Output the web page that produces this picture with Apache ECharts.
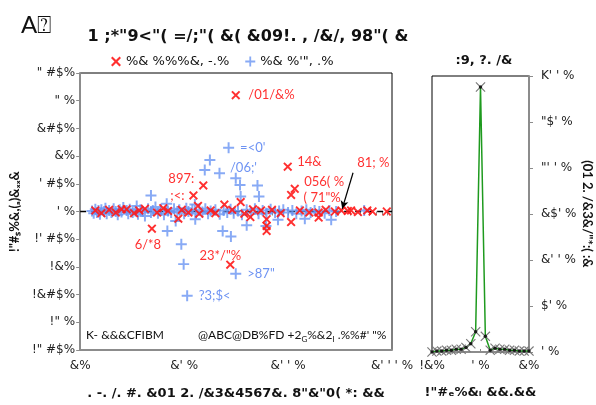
<!DOCTYPE html>
<html><head><meta charset="utf-8">
<script src="https://cdn.jsdelivr.net/npm/echarts@6/dist/echarts.min.js"></script>
<style>html,body{margin:0;padding:0;background:#fff}#c{width:596px;height:405px}</style>
</head><body><div id="c"></div>
<script>
// ---------- data ----------
const xTickValues = [1, 10, 100, 1000];
const xTickLabels = ["&%", "&' %", "&' ' %", "&' ' ' %"];
const yTickLabels = ['!" #$%', '!" %', '!&#$%', '!&%', "!' #$%", "' %", "' #$%", '&%', '&#$%', '" %', '" #$%']; // -2.5 .. 2.5
const histTickLabels = ["' %", "$' %", "&' ' %", "&$' %", "\"' ' %", "\"$' %", "K' ' %"]; // 0..300
const binTickLabels = ["!&%", "' %", "&%"]; // -1,0,1

const seriesNames = ["%& %%%&, -.%", "%& %'\", .%"];

const bluePoints = [
 [1.3,0.01],[1.35,-0.03],[1.4,0.04],[1.45,-0.02],[1.5,0.02],[1.55,-0.05],[1.6,0.03],[1.7,0.0],[1.75,0.06],[1.8,-0.04],
 [1.9,0.02],[2.0,-0.02],[2.1,0.05],[2.2,0.0],[2.3,-0.06],[2.4,0.03],[2.5,-0.01],[2.6,0.07],[2.8,0.02],[2.9,-0.04],
 [3.0,0.04],[3.2,-0.02],[3.4,0.01],[3.5,0.1],[3.6,-0.05],[3.8,0.03],[4.0,0.0],[4.2,-0.08],[4.5,0.05],[4.8,0.29],
 [4.8,-0.02],[5.0,0.02],[5.3,0.08],[5.6,-0.03],[6.0,0.04],[6.4,-0.06],[6.8,0.14],[6.9,-0.35],[7.0,0.01],[7.5,-0.02],
 [8.0,0.05],[8.3,-0.17],[8.6,0.0],[9.0,0.03],[9.4,-0.59],[9.9,-0.95],[10,-0.04],[10.5,0.06],[11,0.0],[12,0.03],
 [12.7,0.125],[12.8,-0.14],[13,-0.03],[14,0.02],[15,-0.01],[15.8,0.75],[16,0.05],[17,-0.04],[17.7,0.93],[18,0.01],
 [20,0.03],[22,-0.05],[23.5,-0.35],[24,0.02],[26,-0.02],[28,0.04],[28.2,-0.45],[30,-0.03],[31.4,0.60],[33,0.01],
 [34.5,0.48],[35,0.27],[36,-0.06],[40,-0.25],[40,0.03],[44,-0.02],[48,0.05],[50.8,0.47],[52,-0.04],[52.5,0.27],
 [57,0.02],[61.3,-0.26],[62,-0.03],[68,0.04],[75,-0.02],[80,-0.15],[82,0.01],[90,0.03],[100,-0.02],[110,0.02],
 [120,-0.04],[135,0.01],[145,-0.13],[150,0.03],[165,-0.02],[180,0.02],[200,0.0],[225,-0.03],[250,0.02],[260,-0.15],
 [290,0.0],[540,0.02]
];
const blueLabeledPoints = [[26.8,1.15],[21.9,0.69],[31.4,-1.125],[10.7,-1.52]];
const blueLabelTexts = ["=<0'", "/06;'", ">87\"", "?3;$<"];

const redPoints = [
 [1.4,0.02],[1.6,-0.03],[1.9,0.03],[2.2,-0.02],[2.5,0.04],[2.8,0.04],[3.3,-0.03],[3.7,0.02],[4.2,0.05],[5.5,-0.02],
 [6.3,0.06],[7,0.01],[8.8,-0.13],[9.5,0.03],[11,-0.02],[13.6,0.1],[14,-0.04],[18,0.02],[20,-0.03],[24.4,0.125],
 [29,0.03],[35,0.17],[38,-0.04],[43.4,-0.1],[46,0.04],[55,0.02],[62.2,-0.14],[62.2,-0.26],[62.2,-0.35],[70,0.03],
 [85,-0.03],[107,-0.19],[130,0.02],[160,-0.02],[197,-0.02],[197,-0.11],[230,0.03],[282,0.0],[376,0.01],[404,0.02],
 [470,-0.01],[579,0.02],[650,0.0],[891,0.0]
];
const redLabeledPoints = [[31.4,2.10],[99.3,0.81],[326,0.02],[116,0.41],[107,0.30],[15.3,0.47],[12.3,0.29],[4.9,-0.31],[27.8,-0.96]];
const redLabelTexts = ["/01/&%", "14&", "81; %", "056( %", "( 71\"%", "897:$'", ";<:$'", "6/*8", "23*/\"%"];
const arrowFrom = [422, 0.70];
const arrowTo = [332, 0.05];

const histBins = [-1,-0.9,-0.8,-0.7,-0.6,-0.5,-0.4,-0.3,-0.2,-0.1,0,0.1,0.2,0.3,0.4,0.5,0.6,0.7,0.8,0.9,1];
const histCounts = [0,1,1,2,2,3,3,5,9,22,288,17,2,4,3,3,2,2,1,1,1];

// ---------- styles ----------
const FONT = 'Lato';
const WFONT = 'DejaVu Sans';
const RED = '#ff1a1a';
const BLUE = '#6a95f2';
const GRAY_AX = '#8c8c8c';
const redSym = 'path://M0,1.5 L1.5,0 L5,3.5 L8.5,0 L10,1.5 L6.5,5 L10,8.5 L8.5,10 L5,6.5 L1.5,10 L0,8.5 L3.5,5 Z M3.3,3.3 L6.7,3.3 L6.7,6.7 L3.3,6.7 Z';
const plusSym = 'path://M4.1,0 L5.9,0 L5.9,4.1 L10,4.1 L10,5.9 L5.9,5.9 L5.9,10 L4.1,10 L4.1,5.9 L0,5.9 L0,4.1 L4.1,4.1 Z';
const thinX = 'path://M0,0.8 L0.8,0 L5,4.2 L9.2,0 L10,0.8 L5.8,5 L10,9.2 L9.2,10 L5,5.8 L0.8,10 L0,9.2 L4.2,5 Z';

// label placements (style only, matched by index)
const blueLabelPos = [
  {position:'right', distance:6},
  {position:'right', distance:5, offset:[0,-5]},
  {position:'right', distance:6},
  {position:'right', distance:6}
];
const redLabelPos = [
  {position:'right', distance:8},
  {position:'right', distance:5, offset:[0,-5]},
  {position:'inside', offset:[32,-48]},
  {position:'right', distance:5, offset:[0,-7]},
  {position:'right', distance:8, offset:[0,3]},
  {position:'inside', offset:[-22,-7]},
  {position:'inside', offset:[-16,0]},
  {position:'inside', offset:[-4,16]},
  {position:'inside', offset:[-10,-9]}
];

function mkLabeled(pts, texts, pos, color){
  return pts.map((p,i)=>({value:p, name:texts[i], label:Object.assign({show:true, formatter:'{b}', color:color, fontSize:13, fontFamily:FONT}, pos[i])}));
}

// minor tick positions for the log axis, as log10 values on an overlay axis
const logTickVals = [];
[1,10,100].forEach(d=>{ for(let k=1;k<=9;k++) logTickVals.push(Math.log10(k*d)); });
logTickVals.push(3);

const chart = echarts.init(document.getElementById('c'), null, {renderer:'canvas'});

const tickLabelStyle = {color:'#222', fontSize:12, fontFamily:WFONT};

const option = {
  animation:false,
  textStyle:{fontFamily:FONT},
  title:[
    {text:'A\u2370', left:16, top:8, textStyle:{fontSize:24, fontWeight:'normal', color:'#111', fontFamily:FONT}},
    {text:'1 ;*"9<"( =/;"( &( &09!. , /&/, 98"( &', left:243, top:24, textAlign:'center', textStyle:{fontSize:16, fontWeight:'bold', color:'#111', fontFamily:WFONT}},
    {text:':9, ?. /&', left:479, top:49, textAlign:'center', textStyle:{fontSize:13, fontWeight:'bold', color:'#111', fontFamily:WFONT}}
  ],
  legend:{
    top:50, left:106,
    itemWidth:10, itemHeight:10, itemGap:16,
    textStyle:{fontSize:13, color:'#111', fontFamily:WFONT},
    data:[{name:seriesNames[0], icon:redSym},{name:seriesNames[1], icon:plusSym}]
  },
  graphic:[
    {type:'text', left:86, top:329, style:{text:'K- &&&CFIBM', fontSize:12, fill:'#111', fontFamily:FONT}},
    {type:'text', left:198, top:329, style:{text:'{a|@ABC@DB%FD +2}{s|G}{a|%&2}{s|I}{a| .%%#\' "%}', fontSize:12, fill:'#111', fontFamily:FONT,
      rich:{a:{fontSize:12, fill:'#111', fontFamily:FONT}, s:{fontSize:8, fill:'#111', fontFamily:FONT, padding:[8,0,0,0]}}}}
  ],
  grid:[
    {left:72, top:73, width:320, height:277, show:true, borderColor:'#000', borderWidth:1, backgroundColor:'transparent'},
    {left:432, top:76, width:97, height:276, show:true, borderColor:'#000', borderWidth:1, backgroundColor:'transparent'}
  ],
  xAxis:[
    {type:'log', gridIndex:0, logBase:10, min:1, max:1000,
     name:'. -. /. #. &01 2. /&3&4567&. 8"&"0( *: &&', nameLocation:'middle', nameGap:37,
     nameTextStyle:{fontSize:13, fontWeight:'bold', color:'#111', fontFamily:WFONT},
     axisLine:{show:true, onZero:false, lineStyle:{color:GRAY_AX, width:2}},
     axisTick:{show:false},
     axisLabel:Object.assign({show:true, margin:10,
       formatter:v=>{const i=xTickValues.findIndex(t=>Math.abs(t-v)<1e-6*t); return i>=0?xTickLabels[i]:'';}}, tickLabelStyle),
     splitLine:{show:false}, minorTick:{show:false}},
    {type:'value', gridIndex:1, min:-1, max:1, interval:1,
     name:'!"#\u2091%&\u1d62 &&.&&', nameLocation:'middle', nameGap:34,
     nameTextStyle:{fontSize:13, fontWeight:'bold', color:'#111', fontFamily:WFONT},
     axisLine:{show:true, onZero:false, lineStyle:{color:GRAY_AX, width:2}},
     axisTick:{show:true, inside:true, length:3, lineStyle:{color:GRAY_AX}},
     axisLabel:Object.assign({margin:8, formatter:v=>binTickLabels[Math.round(v+1)]}, tickLabelStyle),
     splitLine:{show:false}},
    {type:'value', gridIndex:0, min:0, max:3, position:'bottom',
     axisLine:{show:false}, axisLabel:{show:false}, splitLine:{show:false},
     axisTick:{show:true, inside:false, length:4, lineStyle:{color:GRAY_AX}, customValues:logTickVals}}
  ],
  yAxis:[
    {type:'value', gridIndex:0, min:-2.5, max:2.5, interval:0.5,
     name:'!"#\u209b%&,(\u2090)&\u2093\u2093&', nameLocation:'middle', nameGap:48,
     nameTextStyle:{fontSize:13, fontWeight:'bold', color:'#111', fontFamily:FONT},
     axisLine:{show:true, onZero:false, lineStyle:{color:GRAY_AX, width:2}},
     axisTick:{show:true, inside:false, length:4, lineStyle:{color:GRAY_AX}},
     axisLabel:Object.assign({margin:5, formatter:v=>yTickLabels[Math.round((v+2.5)/0.5)]}, tickLabelStyle),
     splitLine:{show:false}},
    {type:'value', gridIndex:1, position:'right', min:0, max:300, interval:50,
     name:'(01 2. /&3&/"*:( :&', nameLocation:'middle', nameGap:50, nameRotate:-90,
     nameTextStyle:{fontSize:13, fontWeight:'bold', color:'#111', fontFamily:FONT},
     axisLine:{show:true, onZero:false, lineStyle:{color:GRAY_AX, width:2}},
     axisTick:{show:true, inside:false, length:4, lineStyle:{color:GRAY_AX}},
     axisLabel:Object.assign({margin:12, formatter:v=>histTickLabels[Math.round(v/50)]}, tickLabelStyle),
     splitLine:{show:false}}
  ],
  series:[
    {name:seriesNames[1], type:'scatter', xAxisIndex:0, yAxisIndex:0, symbol:plusSym, symbolSize:11,
     itemStyle:{color:BLUE, opacity:0.8}, z:2,
     data: bluePoints.concat(mkLabeled(blueLabeledPoints, blueLabelTexts, blueLabelPos, '#4a78f0')),
     markLine:{silent:true, symbol:['none','none'], label:{show:false}, z:1,
       lineStyle:{color:'#000', type:[6,5], width:1.4}, data:[{yAxis:0}]}},
    {name:seriesNames[0], type:'scatter', xAxisIndex:0, yAxisIndex:0, symbol:redSym, symbolSize:9,
     itemStyle:{color:RED, opacity:0.9}, z:3,
     data: redPoints.concat(mkLabeled(redLabeledPoints, redLabelTexts, redLabelPos, RED)),
     markLine:{silent:true, symbol:['none','arrow'], symbolSize:[6,8], label:{show:false},
       lineStyle:{color:'#000', type:'solid', width:1.2},
       data:[[{coord:arrowFrom},{coord:arrowTo}]]}},
    {name:'hist', type:'line', xAxisIndex:1, yAxisIndex:1, symbol:thinX, symbolSize:10, showSymbol:true,
     lineStyle:{color:'#1e9a1e', width:1.5}, itemStyle:{color:'#7a7a7a'},
     data: histBins.map((b,i)=>[b, histCounts[i]])},
    {name:'histdot', type:'scatter', xAxisIndex:1, yAxisIndex:1, symbol:'circle', symbolSize:3.5,
     itemStyle:{color:'#000'}, z:4,
     data: histBins.map((b,i)=>[b, histCounts[i]])}
  ]
};
chart.setOption(option);
</script></body></html>
